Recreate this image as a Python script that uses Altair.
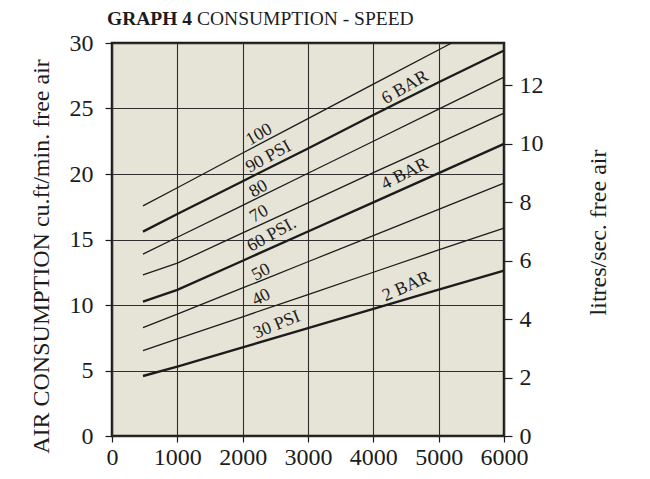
import altair as alt
import pandas as pd

# ---- data ----
rpm = [474, 1000, 2000, 3000, 4000, 5000, 6000]
rpm_100 = [474, 1000, 2000, 3000, 4000, 5199]
psi100 = [17.57, 18.95, 21.6, 24.23, 26.86, 30.0]
psi90 = [15.6, 16.95, 19.45, 21.95, 24.5, 27.0, 29.43]
psi80 = [13.88, 15.17, 17.61, 20.06, 22.5, 24.95, 27.4]
psi70 = [12.3, 13.19, 15.5, 17.8, 20.1, 22.35, 24.65]
psi60 = [10.26, 11.15, 13.38, 15.61, 17.84, 20.07, 22.3]
psi50 = [8.27, 9.3, 11.3, 13.3, 15.3, 17.3, 19.3]
psi40 = [6.52, 7.41, 9.1, 10.8, 12.5, 14.2, 15.87]
psi30 = [4.58, 5.3, 6.77, 8.23, 9.7, 11.17, 12.63]
thick_series = ["90", "60", "30"]

label_text = ["100", "90 PSI", "80", "70", "60 PSI.", "50", "40", "30 PSI", "6 BAR", "4 BAR", "2 BAR"]
label_x = [2252, 2395, 2242, 2252, 2446, 2283, 2283, 2523, 4485, 4485, 4510]
label_y = [23.0, 21.3, 18.87, 16.96, 15.36, 12.5, 10.57, 8.48, 26.6, 20.0, 11.4]
label_angle = [330, 331, 330, 330, 331, 332, 333, 338, 330, 333, 336]

x_ticks = [0, 1000, 2000, 3000, 4000, 5000, 6000]
left_ticks = [0, 5, 10, 15, 20, 25, 30]
right_ticks = [0, 2, 4, 6, 8, 10, 12]
right_max = 13.44

title_bold = "GRAPH 4"
title_rest = "CONSUMPTION - SPEED"
left_title = "AIR CONSUMPTION cu.ft/min. free air"
right_title = "litres/sec. free air"

FONT = "'Liberation Serif', 'Times New Roman', Times, serif"
INK = "#1c1c1c"

rows = []
series = {"100": (rpm_100, psi100), "90": (rpm, psi90), "80": (rpm, psi80), "70": (rpm, psi70),
          "60": (rpm, psi60), "50": (rpm, psi50), "40": (rpm, psi40), "30": (rpm, psi30)}
for name, (xs, ys) in series.items():
    for xv, yv in zip(xs, ys):
        rows.append({"series": name, "rpm": xv, "cfm": yv,
                     "w": 2.4 if name in thick_series else 1.3})
df = pd.DataFrame(rows)

xscale = alt.Scale(domain=[0, 6000], nice=False, zero=False)
yscale = alt.Scale(domain=[0, 30], nice=False)

lines = alt.Chart(df).mark_line(color=INK, strokeCap="butt").encode(
    x=alt.X("rpm:Q", scale=xscale,
            axis=alt.Axis(values=x_ticks, title=None, grid=True, tickSize=6, labelPadding=3,
                          labelFlush=False, format="d")),
    y=alt.Y("cfm:Q", scale=yscale,
            axis=alt.Axis(values=left_ticks, title=left_title, grid=True, tickSize=7,
                          labelPadding=12, titleAngle=270, titleX=-71, titleY=213,
                          titleBaseline="middle", titleAlign="center")),
    detail="series:N",
    strokeWidth=alt.StrokeWidth("w:Q", scale=None),
)

lab_df = pd.DataFrame({"t": label_text, "x": label_x, "y": label_y, "a": label_angle})
labels = alt.Chart(lab_df).mark_text(font=FONT, fontSize=18, color=INK, align="center",
                                     baseline="middle").encode(
    x=alt.X("x:Q", scale=xscale),
    y=alt.Y("y:Q", scale=yscale, axis=None),
    text="t:N",
    angle=alt.Angle("a:Q", scale=None),
)

right = alt.Chart(pd.DataFrame({"ls": right_ticks})).mark_point(opacity=0).encode(
    x=alt.value(0),
    y=alt.Y("ls:Q", scale=alt.Scale(domain=[0, right_max], nice=False),
            axis=alt.Axis(orient="right", values=right_ticks, title=right_title, grid=False,
                          tickSize=8, labelPadding=7, titleAngle=270, titleX=94, titleY=189,
                          titleBaseline="middle", titleAlign="center")),
)

t1 = alt.Chart(pd.DataFrame({"t": [title_bold]})).mark_text(
    font=FONT, fontSize=19.5, fontWeight="bold", color=INK, align="left", baseline="alphabetic"
).encode(x=alt.value(-5), y=alt.value(-18), text="t:N")
t2 = alt.Chart(pd.DataFrame({"t": [title_rest]})).mark_text(
    font=FONT, fontSize=19.5, color=INK, align="left", baseline="alphabetic"
).encode(x=alt.value(85), y=alt.value(-18), text="t:N")

chart = alt.layer(lines, labels, right, t1, t2).resolve_scale(y="independent").properties(
    width=392, height=393,
    autosize=alt.AutoSizeParams(type="none"),
    padding={"left": 104, "top": 35, "right": 130, "bottom": 35},
    background="white",
).configure_view(
    fill="#e6e3d7", stroke=INK, strokeWidth=2.5
).configure_axis(
    labelFont=FONT, labelFontSize=24, labelColor=INK, tickColor=INK, tickWidth=1.2,
    domain=False, gridColor="#2e2e2e", gridWidth=1.1,
    titleFont=FONT, titleFontSize=24, titleFontWeight="normal", titleColor=INK,
)

chart.save("out.html", embed_options={"renderer": "svg", "actions": False})
